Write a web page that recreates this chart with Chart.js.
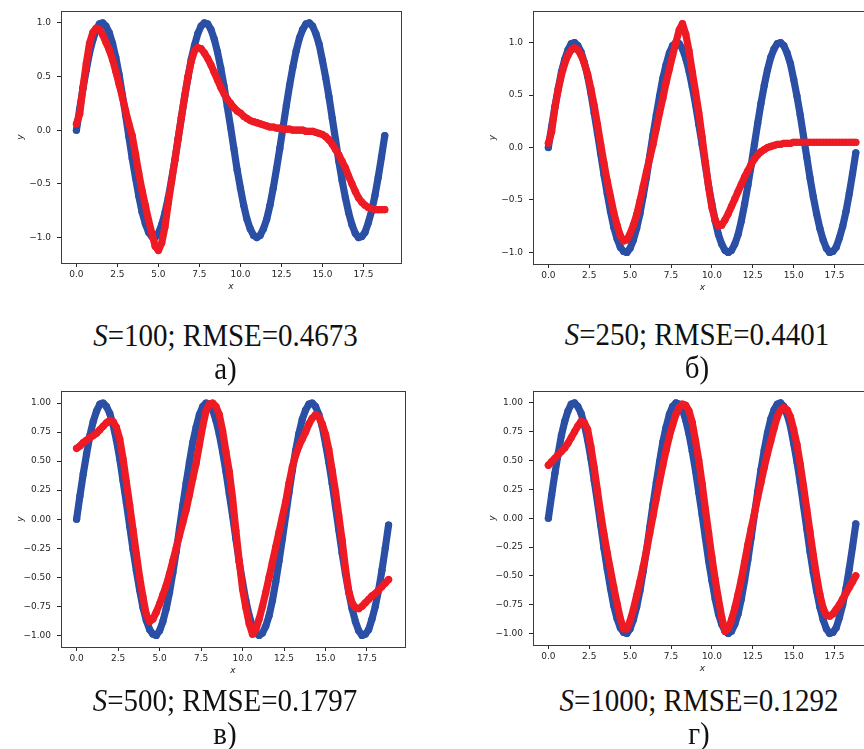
<!DOCTYPE html>
<html>
<head>
<meta charset="utf-8">
<script src="https://cdn.jsdelivr.net/npm/chart.js@4.4.1/dist/chart.umd.min.js"></script>
<style>
  body { margin: 0; width: 864px; height: 749px; overflow: hidden; background: #fff; position: relative; }
  canvas { position: absolute; }
  .cap { position: absolute; font-family: "Liberation Serif", "Times New Roman", serif; font-size: 29px;
         line-height: 30px; color: #111; white-space: nowrap; transform: translateX(-50%) scaleY(1.07); }
</style>
</head>
<body>
<canvas id="c0" width="410" height="300" style="left:0px;top:0px"></canvas>
<canvas id="c1" width="409" height="301" style="left:472px;top:0px"></canvas>
<canvas id="c2" width="414" height="304" style="left:0px;top:380px"></canvas>
<canvas id="c3" width="409" height="302" style="left:472px;top:380px"></canvas>
<div id="caps"></div>
<script>
// x samples shared by every series
var xs = [0, 0.2, 0.4, 0.6, 0.8, 1, 1.2, 1.4, 1.6, 1.8,
    2, 2.2, 2.4, 2.6, 2.8, 3, 3.2, 3.4, 3.6, 3.8,
    4, 4.2, 4.4, 4.6, 4.8, 5, 5.2, 5.4, 5.6, 5.8,
    6, 6.2, 6.4, 6.6, 6.8, 7, 7.2, 7.4, 7.6, 7.8,
    8, 8.2, 8.4, 8.6, 8.8, 9, 9.2, 9.4, 9.6, 9.8,
    10, 10.2, 10.4, 10.6, 10.8, 11, 11.2, 11.4, 11.6, 11.8,
    12, 12.2, 12.4, 12.6, 12.8, 13, 13.2, 13.4, 13.6, 13.8,
    14, 14.2, 14.4, 14.6, 14.8, 15, 15.2, 15.4, 15.6, 15.8,
    16, 16.2, 16.4, 16.6, 16.8, 17, 17.2, 17.4, 17.6, 17.8,
    18, 18.2, 18.4, 18.6, 18.8];

// blue: target signal (same in all four panels)
var target = [0.00, 0.20, 0.39, 0.56, 0.72, 0.84, 0.93, 0.99, 1.00, 0.97,
    0.91, 0.81, 0.68, 0.52, 0.33, 0.14, -0.06, -0.26, -0.44, -0.61,
    -0.76, -0.87, -0.95, -0.99, -1.00, -0.96, -0.88, -0.77, -0.63, -0.46,
    -0.28, -0.08, 0.12, 0.31, 0.49, 0.66, 0.79, 0.90, 0.97, 1.00,
    0.99, 0.94, 0.85, 0.73, 0.58, 0.41, 0.22, 0.03, -0.17, -0.37,
    -0.54, -0.70, -0.83, -0.92, -0.98, -1.00, -0.98, -0.92, -0.83, -0.70,
    -0.54, -0.36, -0.17, 0.03, 0.23, 0.42, 0.59, 0.74, 0.86, 0.94,
    0.99, 1.00, 0.97, 0.90, 0.80, 0.65, 0.49, 0.31, 0.11, -0.09,
    -0.29, -0.47, -0.63, -0.77, -0.88, -0.96, -1.00, -0.99, -0.95, -0.86,
    -0.75, -0.61, -0.44, -0.25, -0.05];

// red: model output, S=100
var predA = [0.06, 0.15, 0.40, 0.62, 0.81, 0.91, 0.95, 0.94, 0.89, 0.82,
    0.75, 0.66, 0.55, 0.43, 0.31, 0.18, 0.06, -0.05, -0.22, -0.40,
    -0.56, -0.70, -0.84, -0.96, -1.08, -1.12, -1.05, -0.90, -0.68, -0.48,
    -0.28, -0.08, 0.12, 0.32, 0.50, 0.64, 0.74, 0.77, 0.76, 0.72,
    0.67, 0.61, 0.54, 0.47, 0.40, 0.34, 0.29, 0.25, 0.21, 0.18,
    0.16, 0.13, 0.11, 0.09, 0.08, 0.07, 0.06, 0.05, 0.04, 0.03,
    0.03, 0.02, 0.02, 0.01, 0.01, 0.01, 0.00, 0.00, 0.00, 0.00,
    -0.01, -0.01, -0.01, -0.02, -0.03, -0.04, -0.06, -0.09, -0.13, -0.18,
    -0.23, -0.29, -0.35, -0.43, -0.50, -0.57, -0.63, -0.67, -0.70, -0.72,
    -0.73, -0.74, -0.74, -0.74, -0.74];

// S=250
var predB = [0.04, 0.15, 0.38, 0.55, 0.69, 0.80, 0.88, 0.93, 0.95, 0.93,
    0.88, 0.80, 0.70, 0.56, 0.40, 0.22, 0.03, -0.15, -0.32, -0.47,
    -0.62, -0.74, -0.84, -0.89, -0.88, -0.82, -0.74, -0.64, -0.51, -0.37,
    -0.23, -0.10, 0.03, 0.18, 0.33, 0.47, 0.62, 0.75, 0.88, 1.00,
    1.12, 1.18, 1.08, 0.92, 0.72, 0.53, 0.33, 0.10, -0.14, -0.38,
    -0.57, -0.69, -0.75, -0.74, -0.69, -0.63, -0.56, -0.49, -0.42, -0.35,
    -0.28, -0.22, -0.16, -0.11, -0.07, -0.04, -0.02, 0.00, 0.01, 0.02,
    0.03, 0.03, 0.04, 0.04, 0.04, 0.05, 0.05, 0.05, 0.05, 0.05,
    0.05, 0.05, 0.05, 0.05, 0.05, 0.05, 0.05, 0.05, 0.05, 0.05,
    0.05, 0.05, 0.05, 0.05, 0.05];

// S=500
var predV = [0.61, 0.63, 0.66, 0.68, 0.70, 0.72, 0.74, 0.77, 0.80, 0.83,
    0.85, 0.84, 0.79, 0.69, 0.52, 0.32, 0.12, -0.09, -0.30, -0.50,
    -0.67, -0.82, -0.88, -0.86, -0.80, -0.73, -0.65, -0.57, -0.47, -0.36,
    -0.25, -0.14, -0.03, 0.08, 0.21, 0.35, 0.48, 0.64, 0.80, 0.93,
    0.99, 1.00, 0.97, 0.90, 0.76, 0.58, 0.41, 0.18, -0.10, -0.36,
    -0.60, -0.76, -0.90, -0.99, -0.95, -0.86, -0.75, -0.63, -0.50, -0.37,
    -0.24, -0.11, 0.02, 0.15, 0.31, 0.45, 0.55, 0.63, 0.69, 0.75,
    0.82, 0.87, 0.90, 0.88, 0.82, 0.73, 0.60, 0.42, 0.24, 0.03,
    -0.18, -0.42, -0.62, -0.72, -0.76, -0.77, -0.75, -0.72, -0.69, -0.66,
    -0.64, -0.61, -0.58, -0.55, -0.52];

// S=1000
var predG = [0.46, 0.49, 0.52, 0.55, 0.58, 0.61, 0.65, 0.70, 0.75, 0.80,
    0.84, 0.83, 0.77, 0.62, 0.44, 0.24, 0.04, -0.14, -0.30, -0.45,
    -0.60, -0.74, -0.87, -0.96, -0.96, -0.89, -0.79, -0.67, -0.55, -0.42,
    -0.28, -0.13, 0.02, 0.17, 0.32, 0.46, 0.59, 0.71, 0.81, 0.90,
    0.96, 0.99, 0.98, 0.93, 0.83, 0.67, 0.50, 0.30, 0.08, -0.13,
    -0.34, -0.53, -0.70, -0.86, -0.98, -0.96, -0.88, -0.78, -0.66, -0.53,
    -0.38, -0.23, -0.09, 0.04, 0.18, 0.31, 0.44, 0.56, 0.67, 0.78,
    0.88, 0.94, 0.96, 0.94, 0.88, 0.77, 0.64, 0.47, 0.28, 0.08,
    -0.12, -0.32, -0.50, -0.66, -0.78, -0.84, -0.85, -0.83, -0.79, -0.75,
    -0.70, -0.65, -0.60, -0.55, -0.50];

var xTicks = [0, 2.5, 5, 7.5, 10, 12.5, 15, 17.5];
var yTicksHalf = [-1, -0.5, 0, 0.5, 1];
var yTicksQuarter = [-1, -0.75, -0.5, -0.25, 0, 0.25, 0.5, 0.75, 1];

var sValues = ['100', '250', '500', '1000'];
var rmseValues = ['0.4673', '0.4401', '0.1797', '0.1292'];
var letters = ['а)', 'б)', 'в)', 'г)'];

var BLUE = '#2a4fa5';
var RED = '#ee1b24';
var INK = '#262626';

function pts(ys) {
    return xs.map(function (x, i) { return { x: x, y: ys[i] }; });
}

function fmt(v, d) {
    var s = Number(v).toFixed(d);
    return s.charAt(0) == '-' ? '\u2212' + s.slice(1) : s;
}

// matplotlib-like box around the plot area
var frame = {
    id: 'frame',
    afterDraw: function (chart) {
        var a = chart.chartArea, ctx = chart.ctx;
        ctx.save();
        ctx.strokeStyle = '#3c3c3c';
        ctx.lineWidth = 1;
        ctx.strokeRect(Math.round(a.left) + 0.5, Math.round(a.top) + 0.5,
            Math.round(a.right - a.left), Math.round(a.bottom - a.top));
        ctx.restore();
    }
};

function series(ys, color, order) {
    return {
        data: pts(ys),
        order: order,
        showLine: true,
        borderColor: color,
        borderWidth: 7.2,
        borderCapStyle: 'round',
        borderJoinStyle: 'round',
        backgroundColor: color,
        pointRadius: 3.6,
        pointBorderWidth: 0,
        pointHoverRadius: 0
    };
}

var tickFont = { family: 'DejaVu Sans', size: 9 };
var titleFont = { family: 'DejaVu Sans', size: 9, style: 'italic' };

function makePanel(id, pred, yTicks, yMin, yMax, dec, pad) {
    new Chart(document.getElementById(id), {
        type: 'scatter',
        data: { datasets: [series(pred, RED, 0), series(target, BLUE, 1)] },
        options: {
            responsive: false,
            animation: false,
            events: [],
            layout: { padding: pad },
            plugins: { legend: { display: false }, tooltip: { enabled: false } },
            scales: {
                x: {
                    type: 'linear', min: -0.94, max: 19.79,
                    afterBuildTicks: function (s) { s.ticks = xTicks.map(function (v) { return { value: v }; }); },
                    afterFit: function (s) { s.height = 37; },
                    ticks: { font: tickFont, color: INK, padding: 2, maxRotation: 0, autoSkip: false,
                        callback: function (v) { return fmt(v, 1); } },
                    grid: { drawOnChartArea: false, tickLength: 4, color: INK },
                    border: { display: false },
                    title: { display: true, text: 'x', font: titleFont, color: INK, padding: { top: 0, bottom: 8 } }
                },
                y: {
                    type: 'linear', min: yMin, max: yMax,
                    afterBuildTicks: function (s) { s.ticks = yTicks.map(function (v) { return { value: v }; }); },
                    afterFit: function (s) { s.width = 61; },
                    ticks: { font: tickFont, color: INK, padding: 6, autoSkip: false,
                        callback: function (v) { return fmt(v, dec); } },
                    grid: { drawOnChartArea: false, tickLength: 4, color: INK },
                    border: { display: false },
                    title: { display: true, text: 'y', font: titleFont, color: INK, padding: { top: 15, bottom: 0 } }
                }
            }
        },
        plugins: [frame]
    });
}

makePanel('c0', predA, yTicksHalf, -1.237, 1.107, 1, { top: 10, right: 9, left: 0, bottom: 0 });
makePanel('c1', predB, yTicksHalf, -1.11, 1.297, 1, { top: 9, right: 9, left: 0, bottom: 0 });
makePanel('c2', predV, yTicksQuarter, -1.1, 1.1, 2, { top: 11, right: 9, left: 0, bottom: 0 });
makePanel('c3', predG, yTicksQuarter, -1.1, 1.1, 2, { top: 9, right: 9, left: 0, bottom: 0 });

// captions under each panel
var capX = [225.5, 697, 225, 699];
var capBase = [345, 344, 710, 710];
var caps = document.getElementById('caps');
sValues.forEach(function (s, i) {
    var l1 = document.createElement('div');
    l1.className = 'cap';
    l1.style.left = capX[i] + 'px';
    l1.style.top = (capBase[i] - 25) + 'px';
    l1.innerHTML = '<i>S</i>=' + s + '; RMSE=' + rmseValues[i];
    var l2 = document.createElement('div');
    l2.className = 'cap';
    l2.style.left = capX[i] + 'px';
    l2.style.top = (capBase[i] + 8) + 'px';
    l2.textContent = letters[i];
    caps.appendChild(l1);
    caps.appendChild(l2);
});
</script>
</body>
</html>
